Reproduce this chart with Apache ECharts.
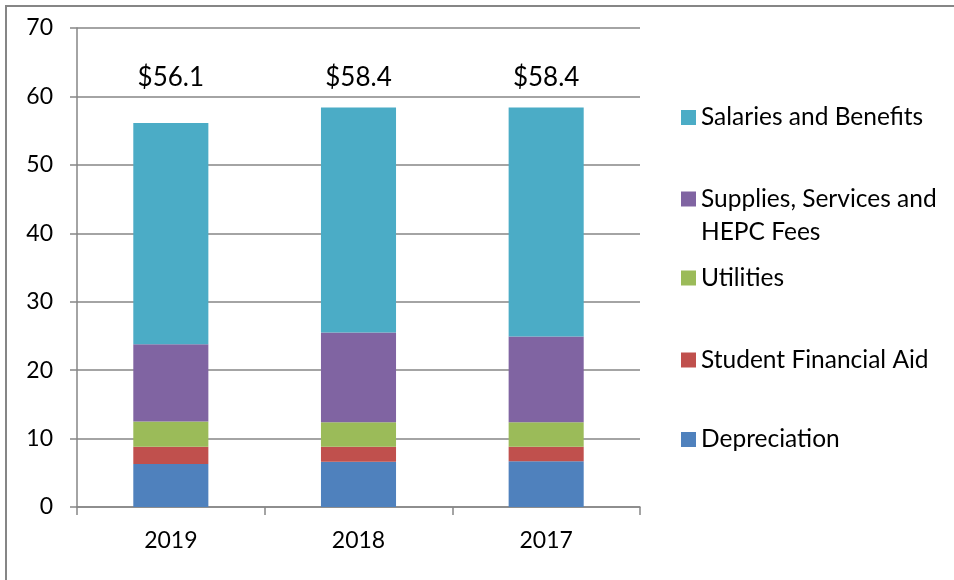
<!DOCTYPE html>
<html>
<head>
<meta charset="utf-8">
<script src="https://cdn.jsdelivr.net/npm/echarts@6/dist/echarts.min.js"></script>
<style>
    html, body { margin: 0; padding: 0; background: #fff; }
    #chart-container { width: 954px; height: 580px; }
</style>
</head>
<body>
<div id="chart-container"></div>
<script>
// Data
var years = ['2019', '2018', '2017'];
var depreciation = [6.3, 6.6, 6.7];
var studentAid = [2.5, 2.2, 2.1];
var utilities = [3.7, 3.6, 3.6];
var supplies = [11.3, 13.1, 12.5];
var salaries = [32.3, 32.9, 33.5];
var totals = [56.1, 58.4, 58.4];

var chartElement = document.getElementById('chart-container');
var chart = echarts.init(chartElement);

var fontName = 'Lato, Carlito, "Open Sans", sans-serif';
var axisCol = '#868686';

// one legend block per entry so they can sit where the original has them
var makeLegend = function (name, top, formatter) {
    var lg = {
        orient: 'vertical',
        left: 681,
        top: top,
        padding: 0,
        icon: 'rect',
        itemWidth: 15,
        itemHeight: 15,
        data: [name],
        selectedMode: false,
        textStyle: {
            fontFamily: fontName,
            fontSize: 24.5,
            lineHeight: 33,
            color: '#000'
        }
    };
    if (formatter) lg.formatter = formatter;
    return lg;
};

var barSeries = function (name, values, color) {
    return {
        name: name,
        type: 'bar',
        stack: 'total',
        barWidth: '40%',
        itemStyle: { color: color },
        data: values
    };
};

var option = {
    animation: false,
    textStyle: { fontFamily: fontName },
    graphic: [{
        type: 'rect',
        shape: { x: 6, y: 6, width: 1000, height: 1000 },
        style: { fill: 'none', stroke: axisCol, lineWidth: 2 },
        silent: true
    }],
    legend: [
        makeLegend('Salaries and Benefits', 101),
        // blank first line keeps the icon level with the first text line
        makeLegend('Supplies, Services and HEPC Fees', 149.5, function () {
            return ' \nSupplies, Services and\nHEPC Fees';
        }),
        makeLegend('Utilities', 261.5),
        makeLegend('Student Financial Aid', 343.5),
        makeLegend('Depreciation', 423)
    ],
    grid: {
        left: 77,
        right: 314,
        top: 28,
        bottom: 73
    },
    xAxis: {
        type: 'category',
        data: years,
        axisLine: { lineStyle: { color: axisCol, width: 1.5 } },
        axisTick: { show: true, length: 8, lineStyle: { color: axisCol, width: 1.5 } },
        axisLabel: { color: '#000', fontSize: 23, margin: 22, fontFamily: fontName }
    },
    yAxis: {
        type: 'value',
        min: 0,
        max: 70,
        interval: 10,
        axisLine: { show: true, lineStyle: { color: axisCol, width: 1.5 } },
        axisTick: { show: true, length: 7, lineStyle: { color: axisCol, width: 1.5 } },
        splitLine: { lineStyle: { color: axisCol, width: 1.5 } },
        axisLabel: { color: '#000', fontSize: 23, margin: 24, fontFamily: fontName }
    },
    series: [
        barSeries('Depreciation', depreciation, '#4F81BD'),
        barSeries('Student Financial Aid', studentAid, '#C0504D'),
        barSeries('Utilities', utilities, '#9BBB59'),
        barSeries('Supplies, Services and HEPC Fees', supplies, '#8064A2'),
        barSeries('Salaries and Benefits', salaries, '#4BACC6'),
        {
            // total labels sit on one common level above the bars
            name: 'Total',
            type: 'scatter',
            symbolSize: 0,
            silent: true,
            itemStyle: { opacity: 1 },
            data: totals.map(function (t, i) { return [i, 62.7]; }),
            label: {
                show: true,
                position: 'inside',
                fontSize: 26,
                fontFamily: fontName,
                color: '#000',
                opacity: 1,
                formatter: function (p) { return '$' + totals[p.dataIndex].toFixed(1); }
            }
        }
    ]
};

chart.setOption(option);
window.addEventListener('resize', function () { chart.resize(); });
</script>
</body>
</html>
